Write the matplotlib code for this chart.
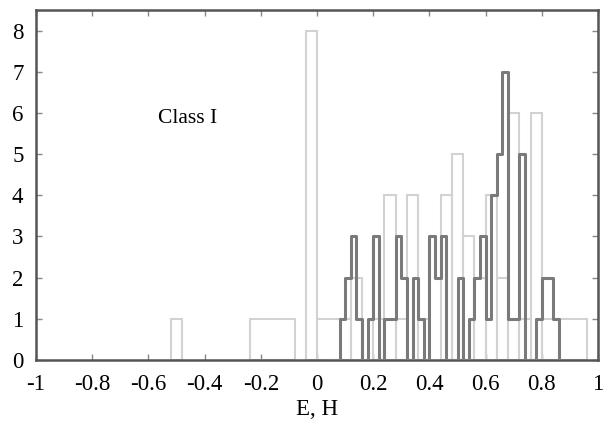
import numpy as np
import matplotlib
matplotlib.use('Agg')
import matplotlib.pyplot as plt

plt.rcParams['font.family'] = ['Liberation Serif', 'DejaVu Serif']

# Histograma claro (caixas): borda esquerda, largura, contagem
light_left = [-0.52, -0.24, -0.04, 0.00, 0.12, 0.20, 0.24, 0.28, 0.32, 0.36,
              0.44, 0.48, 0.52, 0.56, 0.60, 0.64, 0.68, 0.72, 0.76, 0.80]
light_width = [0.04, 0.16, 0.04, 0.12, 0.04, 0.04, 0.04, 0.04, 0.04, 0.04,
               0.04, 0.04, 0.04, 0.04, 0.04, 0.04, 0.04, 0.04, 0.04, 0.16]
light_count = [1, 1, 8, 1, 2, 1, 4, 1, 4, 1,
               4, 5, 3, 2, 4, 2, 6, 1, 6, 1]

# Histograma escuro (degraus), bins de 0.02 a partir de 0.02
dark_edges = np.round(np.arange(0.02, 0.8601, 0.02), 2)
dark_count = [0, 0, 0, 1, 2, 3, 1, 0, 1, 3,
              0, 1, 1, 3, 2, 0, 2, 1, 0, 3,
              2, 3, 0, 0, 2, 0, 1, 2, 3, 1,
              4, 5, 7, 1, 1, 5, 0, 0, 1, 2,
              2, 1]

xticks = [-1, -0.8, -0.6, -0.4, -0.2, 0, 0.2, 0.4, 0.6, 0.8, 1]
xticklabels = ['-1', '-0.8', '-0.6', '-0.4', '-0.2', '0', '0.2', '0.4', '0.6', '0.8', '1']
yticks = [0, 1, 2, 3, 4, 5, 6, 7, 8]

fig = plt.figure(figsize=(6.05, 4.26), dpi=100)
ax = fig.add_axes([0.0595, 0.155, 0.929, 0.8216])

ax.bar(light_left, light_count, width=light_width, align='edge', fill=False,
       edgecolor='#d2d2d2', linewidth=1.5, zorder=2)
ax.stairs(dark_count, dark_edges, baseline=0, color='#7a7a7a', linewidth=2.2,
          joinstyle='round', zorder=3)

ax.text(-0.46, 5.87, 'Class I', ha='center', va='center', fontsize=15.5)

ax.set_xlim(-1, 1)
ax.set_ylim(0, 8.5)
ax.set_xticks(xticks)
ax.set_xticklabels(xticklabels)
ax.set_yticks(yticks)
ax.tick_params(direction='in', top=True, right=True, length=4, width=1,
               color='#888888', labelsize=16.5)
ax.tick_params(axis='x', pad=10)
ax.tick_params(axis='y', pad=9)
for s in ax.spines.values():
    s.set_color('#555555')
    s.set_linewidth(1.8)
ax.set_xlabel('E, H', fontsize=16.5, labelpad=3)

fig.savefig('out.png', dpi=100)
